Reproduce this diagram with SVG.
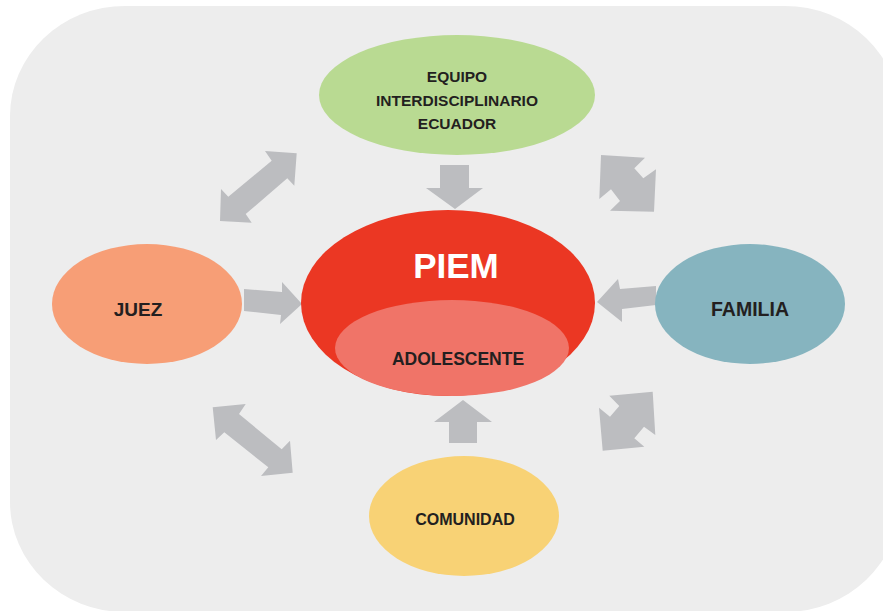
<svg xmlns="http://www.w3.org/2000/svg" width="883" height="611" viewBox="0 0 883 611">
<style>
.lbl{font-family:"Liberation Sans",Arial,sans-serif;font-weight:bold;fill:#231F20;text-anchor:middle}
.arr{fill:#BCBDC0}
</style>
<rect width="883" height="611" fill="#FFFFFF"/>
<rect id="background" x="10" y="6" width="890" height="606" rx="115" ry="110" fill="#EDEDED"/>
<g id="connectors">
<polygon class="arr" points="440,165 469,165 469,188 483,188 455,209 426,188 440,188"/>
<polygon class="arr" points="463,400 492,422 477,422 477,443 449,443 449,422 434,422"/>
<polygon class="arr" points="244,289 282,292 282,282 302,304 280,324 281,315 244,311"/>
<polygon class="arr" points="597,302 618,279 620,289 656,286 656,305 622,309 622,322"/>
<polygon class="arr" points="296.7,153.3 294.3,185.7 287.3,178.3 245.7,214 251.7,222.7 220,221 221,189 228.3,196.7 271.7,160.7 265,151"/>
<polygon class="arr" points="601,155 645,157.7 634.3,168.3 643.3,178.3 656,169.3 654,211.7 610,210.7 620,201 611,189.3 599.3,199"/>
<polygon class="arr" points="212.7,407.3 245.7,404 239,414 281.7,449.3 290,440.7 292.7,472.7 261,476 268.3,467.3 224.3,432.3 216,440"/>
<polygon class="arr" points="652.7,391.7 655.3,435 644,426.7 634.3,438.3 644.3,446.7 602.7,450.7 599,407.7 610,416.7 619.3,406 609.3,395.7"/>
</g>
<g id="equipo">
<ellipse cx="457" cy="95" rx="138" ry="60" fill="#B9DA92"/>
<text class="lbl" x="457" y="82" font-size="15.5">EQUIPO</text>
<text class="lbl" x="457" y="106" font-size="15.5">INTERDISCIPLINARIO</text>
<text class="lbl" x="457" y="129" font-size="15.5">ECUADOR</text>
</g>
<g id="piem">
<ellipse cx="448" cy="303" rx="147" ry="93" fill="#EB3723"/>
<ellipse cx="452" cy="348" rx="117" ry="48" fill="#F07468"/>
<text x="456" y="278" font-family="Liberation Sans, Arial, sans-serif" font-weight="bold" font-size="35" fill="#FFFFFF" text-anchor="middle">PIEM</text>
<text class="lbl" x="458" y="365" font-size="17.5">ADOLESCENTE</text>
</g>
<g id="juez">
<ellipse cx="147" cy="304" rx="95" ry="60" fill="#F79E76"/>
<text class="lbl" x="138" y="316" font-size="19">JUEZ</text>
</g>
<g id="familia">
<ellipse cx="750" cy="304" rx="95" ry="60" fill="#86B4BF"/>
<text class="lbl" x="750" y="316" font-size="19.5">FAMILIA</text>
</g>
<g id="comunidad">
<ellipse cx="464" cy="516" rx="95" ry="60" fill="#F8D275"/>
<text class="lbl" x="465" y="525" font-size="16">COMUNIDAD</text>
</g>
</svg>
